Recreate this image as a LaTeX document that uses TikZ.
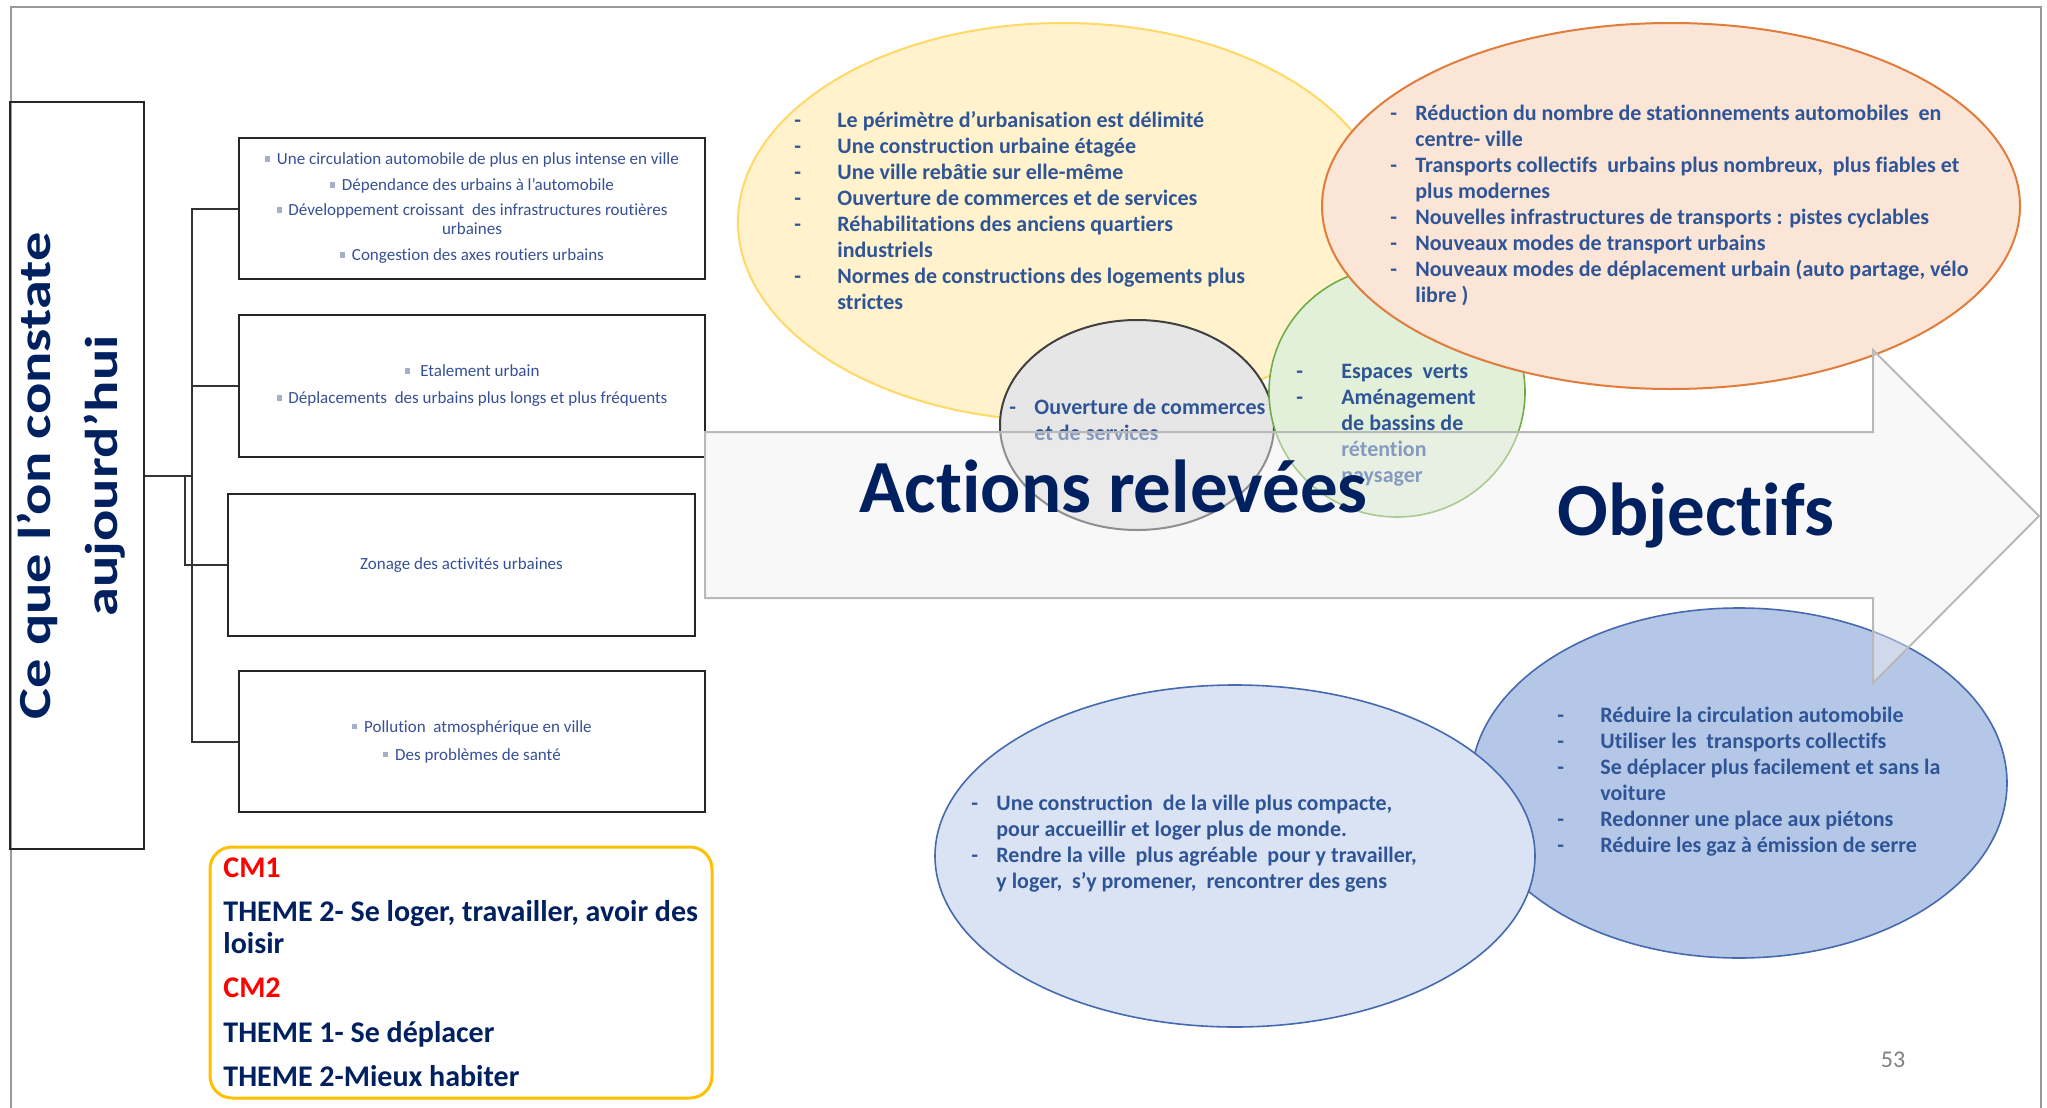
\documentclass[tikz,border=0pt]{standalone}
\usepackage{fontspec}
\setmainfont{Carlito}[Ligatures={NoCommon,NoContextual,NoRequired}]
\usepackage{graphicx}
\definecolor{navy}{RGB}{0,32,96}
\definecolor{txtblue}{RGB}{47,85,151}
\definecolor{boxtxt}{RGB}{55,80,150}
\definecolor{bulc}{RGB}{165,175,200}
\definecolor{yfill}{RGB}{255,242,204}
\definecolor{ydraw}{RGB}{255,217,102}
\definecolor{ofill}{RGB}{251,229,214}
\definecolor{odraw}{RGB}{225,125,60}
\definecolor{gfill}{RGB}{231,230,230}
\definecolor{gdraw}{RGB}{64,64,64}
\definecolor{grfill}{RGB}{226,240,217}
\definecolor{grdraw}{RGB}{112,173,71}
\definecolor{lbfill}{RGB}{218,227,243}
\definecolor{dbfill}{RGB}{180,199,231}
\definecolor{bldraw}{RGB}{70,105,175}
\definecolor{legc}{RGB}{255,192,0}
\definecolor{arrfill}{RGB}{240,240,240}
\definecolor{arrdraw}{RGB}{185,185,185}
\newcommand\bsq{\textcolor{bulc}{\rule[0.2em]{0.3em}{0.3em}}\hspace{0.4em}}
\begin{document}
\begin{tikzpicture}[x=0.5pt,y=-0.5pt,
  box/.style={draw=black!85, line width=1pt, inner sep=0pt, align=center, text=boxtxt, font=\fontsize{8.5}{9.5}\selectfont},
  conn/.style={draw=black!80, line width=1pt},
  etxt/.style={font=\fontsize{11}{13}\selectfont\bfseries, text=txtblue, inner sep=0pt, anchor=base west},
  legt/.style={font=\fontsize{15}{16}\selectfont\bfseries, text=navy, inner sep=0pt, anchor=base west},
  title/.style={font=\fontsize{37.5}{40}\selectfont\bfseries, text=navy, inner sep=0pt, anchor=base west}]
\useasboundingbox (0,0) rectangle (2047,1108);
\fill[white] (0,0) rectangle (2047,1108);
% page frame
\draw[black!40, line width=0.75pt] (11,1108) -- (11,7) -- (2041,7) -- (2041,1108);

% left title box
\node[draw=black!85, line width=0.8pt, minimum width=67pt, minimum height=373.5pt, inner sep=0pt] (lb) at (77,475.5) {};
\node[rotate=90, align=center, text=navy, font=\fontsize{23}{33.5}\selectfont\bfseries, inner sep=0pt] (lbt) at (71,476)
  {\scalebox{1.27}[1]{Ce que l’on constate}\\\scalebox{1.27}[1]{aujourd’hui}};

% boxes
\node[box, minimum width=233pt, minimum height=70.5pt] (b1) at (472,208.5)
  {\bsq Une circulation automobile de plus en plus intense en ville\\[3.5pt]
   \bsq Dépendance des urbains à l’automobile\\[3pt]
   \bsq Développement croissant\ \ des infrastructures routières\\ urbaines\\[3.5pt]
   \bsq Congestion des axes routiers urbains};
\node[box, minimum width=233pt, minimum height=71pt] (b2) at (472,386)
  {\bsq\ Etalement urbain\\[4pt]
   \bsq Déplacements\ \ des urbains plus longs et plus fréquents};
\node[box, minimum width=233.5pt, minimum height=71pt] (b3) at (461.5,565)
  {Zonage des activités urbaines};
\node[box, minimum width=233pt, minimum height=70.5pt] (b4) at (472,741.5)
  {\bsq Pollution\ \ atmosphérique en ville\\[4.5pt]
   \bsq Des problèmes de santé};

% tree connectors
\coordinate (j) at (192,476);
\coordinate (j2) at (185,476);
\draw[conn] (lb.east) -- (lb.east -| j);
\draw[conn] (j) |- (b1.west);
\draw[conn] (j) |- (b2.west);
\draw[conn] (j) |- (b4.west);
\draw[conn] (j2) |- (b3.west);

% legend
\node[draw=legc, line width=1.5pt, rounded corners=11pt, minimum width=251pt, minimum height=125.5pt, inner sep=0pt] (leg) at (461,972.5) {};
\node[legt, text=red] (cm1) at (223,877) {CM1};
\node[legt] (t2a) at (223,921) {THEME 2- Se loger, travailler, avoir des};
\node[legt] (t2b) at (223,953) {loisir};
\node[legt, text=red] (cm2) at (223,997) {CM2};
\node[legt] (t1) at (223,1042) {THEME 1- Se déplacer};
\node[legt] (t2c) at (223,1086) {THEME 2-Mieux habiter};

% yellow ellipse
\draw[fill=yfill, draw=ydraw, line width=1pt] (1063,222) ellipse [x radius=162.5pt, y radius=99.5pt];
\foreach \n/\y/\d/\t in {1/127/-/{Le périmètre d’urbanisation est délimité},
  2/153/-/{Une construction urbaine étagée},
  3/179/-/{Une ville rebâtie sur elle-même},
  4/205/-/{Ouverture de commerces et de services},
  5/231/-/{Réhabilitations des anciens quartiers},
  6/257/{}/{industriels},
  7/283/-/{Normes de constructions des logements plus},
  8/309/{}/{strictes}}{
  \node[etxt] (yd\n) at (794,\y) {\d};
  \node[etxt] (yt\n) at (837,\y) {\t};
}

% gray ellipse
\draw[fill=gfill, draw=gdraw, line width=1pt] (1137,425) ellipse [x radius=68.5pt, y radius=52.5pt];
\node[etxt] (gd1) at (1009,414) {-};
\node[etxt] (gt1) at (1034,414) {Ouverture de commerces};
\node[etxt] (gt2) at (1034,440) {et de services};

% green ellipse
\draw[fill=grfill, draw=grdraw, line width=0.8pt] (1397,392) ellipse [x radius=64pt, y radius=62.5pt];
\foreach \n/\y/\d/\t in {1/378/-/{Espaces\ \ verts},
  2/404/-/{Aménagement},
  3/430/{}/{de bassins de},
  4/456/{}/{rétention},
  5/482/{}/{paysager}}{
  \node[etxt] (grd\n) at (1296,\y) {\d};
  \node[etxt] (grt\n) at (1341,\y) {\t};
}

% orange ellipse
\draw[fill=ofill, draw=odraw, line width=1pt] (1671,206) ellipse [x radius=174.5pt, y radius=91.5pt];
\foreach \n/\y/\d/\t in {1/120/-/{Réduction du nombre de stationnements automobiles\ \ en},
  2/146/{}/{centre- ville},
  3/172/-/{Transports collectifs\ \ urbains plus nombreux,\ \ plus fiables et},
  4/198/{}/{plus modernes},
  5/224/-/{Nouvelles infrastructures de transports : pistes cyclables},
  6/250/-/{Nouveaux modes de transport urbains},
  7/276/-/{Nouveaux modes de déplacement urbain (auto partage, vélo},
  8/302/{}/{libre )}}{
  \node[etxt] (od\n) at (1390,\y) {\d};
  \node[etxt] (ot\n) at (1415,\y) {\t};
}

% dark blue ellipse
\draw[fill=dbfill, draw=bldraw, line width=0.8pt] (1739,783) ellipse [x radius=134pt, y radius=87.5pt];
\foreach \n/\y/\d/\t in {1/722/-/{Réduire la circulation automobile},
  2/748/-/{Utiliser les\ \ transports collectifs},
  3/774/-/{Se déplacer plus facilement et sans la},
  4/800/{}/{voiture},
  5/826/-/{Redonner une place aux piétons},
  6/852/-/{Réduire les gaz à émission de serre}}{
  \node[etxt] (dd\n) at (1557,\y) {\d};
  \node[etxt] (dt\n) at (1600,\y) {\t};
}

% light blue ellipse
\draw[fill=lbfill, draw=bldraw, line width=0.8pt] (1235,856) ellipse [x radius=150pt, y radius=85.5pt];
\foreach \n/\y/\d/\t in {1/810/-/{Une construction\ \ de la ville plus compacte,},
  2/836/{}/{pour accueillir et loger plus de monde.},
  3/862/-/{Rendre la ville\ \ plus agréable\ \ pour y travailler,},
  4/888/{}/{y loger,\ \ s’y promener,\ \ rencontrer des gens}}{
  \node[etxt] (ld\n) at (971,\y) {\d};
  \node[etxt] (lt\n) at (996,\y) {\t};
}

% big arrow
\draw[fill=arrfill, fill opacity=0.45, draw=arrdraw, line width=1pt, line join=miter]
  (705,432) -- (1873,432) -- (1873,350) -- (2039,516) -- (1873,683) -- (1873,598) -- (705,598) -- cycle;

\node[title] (act) at (859,512) {Act\kern0pt ions relevées};
\node[title] (obj) at (1557,535) {Objectifs};

\node[font=\fontsize{12}{14}\selectfont, text=black!50, inner sep=0pt] (pg) at (1893,1060) {53};
\end{tikzpicture}
\end{document}
